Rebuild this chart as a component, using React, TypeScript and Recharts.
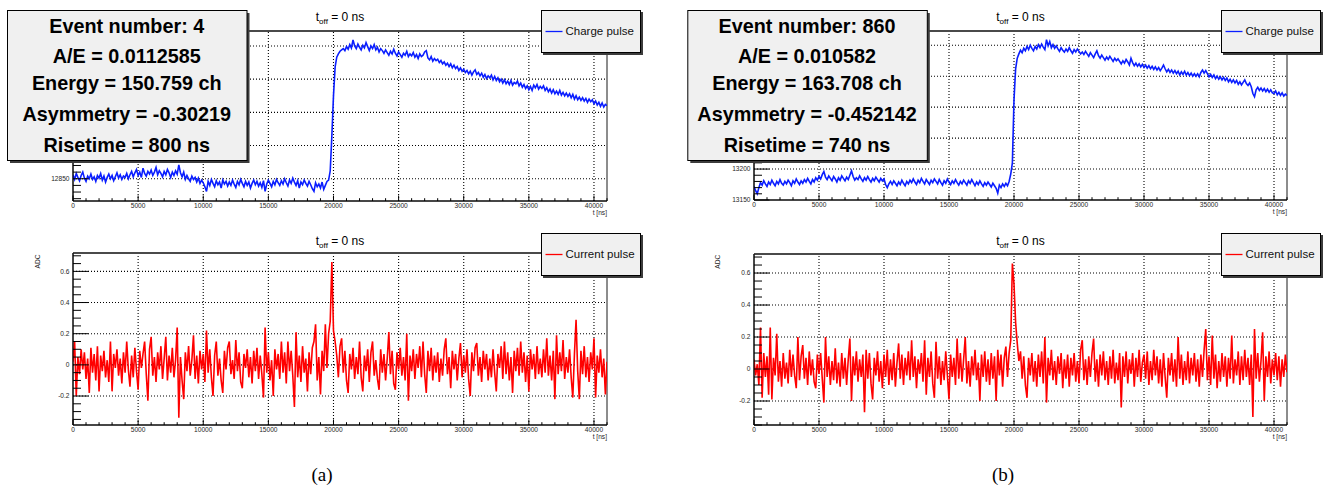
import React from 'react';
import { LineChart, Line, XAxis, YAxis, ReferenceLine, ReferenceArea, Legend } from 'recharts';

// ─── Constants ────────────────────────────────────────────────────────────────

const SANS = '"Liberation Sans", Arial, Helvetica, sans-serif';
const SERIF = '"Liberation Serif", "DejaVu Serif", serif';

const DT = 125;
const T_MAX = 41000;

const X_MAJOR = [5000, 10000, 15000, 20000, 25000, 30000, 35000, 40000];
const X_TICKS = Array.from({ length: 42 }, (_, i) => i * 1000);

const STATS_A = ['Event number: 4', 'A/E = 0.0112585', 'Energy = 150.759 ch', 'Asymmetry = -0.30219', 'Risetime = 800 ns'];
const STATS_B = ['Event number: 860', 'A/E = 0.010582', 'Energy = 163.708 ch', 'Asymmetry = -0.452142', 'Risetime = 740 ns'];

// ─── Data (ADC samples every 125 ns, 0 … 41000 ns) ───────────────────────────

const CHARGE_A = [
  12856, 12849, 12858, 12852, 12847, 12855, 12860, 12851, 12846, 12854, 12850, 12857, 12849, 12853, 12846, 12855,
  12851, 12858, 12848, 12854, 12845, 12852, 12857, 12850, 12855, 12847, 12853, 12859, 12851, 12856, 12849, 12854,
  12852, 12858, 12850, 12856, 12861, 12853, 12859, 12864, 12855, 12860, 12852, 12866, 12858, 12854, 12861, 12857,
  12863, 12855, 12860, 12867, 12856, 12862, 12858, 12853, 12861, 12856, 12864, 12859, 12852, 12860, 12855, 12862,
  12857, 12871, 12859, 12853, 12860, 12849, 12855, 12850, 12846, 12854, 12849, 12852, 12845, 12851, 12843, 12848,
  12844, 12838, 12831, 12846, 12840, 12849, 12843, 12838, 12847, 12841, 12845, 12836, 12848, 12842, 12846, 12839,
  12845, 12840, 12848, 12842, 12837, 12846, 12841, 12849, 12843, 12838, 12846, 12840, 12845, 12836, 12843, 12848,
  12841, 12846, 12839, 12844, 12837, 12847, 12831, 12842, 12848, 12843, 12838, 12846, 12841, 12849, 12844, 12840,
  12847, 12842, 12850, 12844, 12839, 12848, 12843, 12851, 12845, 12840, 12847, 12836, 12845, 12841, 12848, 12843,
  12839, 12846, 12841, 12835, 12831, 12844, 12838, 12842, 12836, 12845, 12834, 12840, 12846, 12848, 12862, 12915,
  12975, 13018, 13033, 13038, 13042, 13044, 13046, 13043, 13049, 13045, 13052, 13047, 13059, 13050, 13046, 13053,
  13048, 13044, 13051, 13047, 13055, 13049, 13043, 13050, 13046, 13052, 13044, 13048, 13041, 13046, 13043, 13039,
  13044, 13040, 13036, 13042, 13038, 13045, 13039, 13035, 13041, 13037, 13033, 13039, 13036, 13042, 13034, 13038,
  13035, 13040, 13033, 13037, 13031, 13038, 13034, 13036, 13041, 13043, 13032, 13029, 13034, 13027, 13031, 13028,
  13030, 13025, 13028, 13023, 13026, 13021, 13024, 13019, 13023, 13017, 13021, 13016, 13019, 13013, 13017, 13012,
  13015, 13010, 13013, 13008, 13012, 13006, 13011, 13014, 13007, 13010, 13005, 13009, 13003, 13007, 13001, 13005,
  13002, 13006, 12999, 13004, 12998, 13002, 12996, 13000, 12994, 12999, 12993, 12997, 12992, 12998, 12991, 12995,
  12993, 12997, 12990, 12994, 12988, 12992, 12986, 12990, 12984, 12989, 12983, 12991, 12987, 12992, 12985, 12989,
  12986, 12990, 12983, 12987, 12981, 12985, 12979, 12984, 12978, 12982, 12977, 12983, 12976, 12980, 12975, 12979,
  12974, 12978, 12972, 12977, 12970, 12975, 12969, 12973, 12968, 12972, 12967, 12971, 12965, 12970, 12966, 12969,
  12963, 12967, 12961, 12965, 12959, 12964, 12958, 12962, 12960,
];

const CURRENT_A = [
  0.02, 0.15, -0.2, 0.05, -0.06, 0.1, -0.03, 0.08, -0.09, 0.04, -0.18, 0.11, -0.05, 0.07, -0.1, 0.12,
  -0.17, 0.06, -0.04, 0.09, -0.08, 0.03, -0.11, 0.15, -0.17, 0.07, -0.02, 0.1, -0.07, 0.04, -0.12, 0.08,
  -0.05, 0.15, -0.03, -0.14, 0.06, -0.08, 0.11, -0.04, -0.16, 0.09, -0.02, 0.07, 0.15, -0.06, -0.23, 0.1,
  0.18, -0.07, 0.05, -0.11, 0.08, -0.03, 0.12, -0.09, 0.04, 0.18, -0.1, 0.06, -0.05, 0.11, -0.08, 0.03,
  0.24, -0.34, 0.05, -0.1, -0.22, 0.08, -0.04, 0.12, -0.07, 0.03, 0.19, -0.09, 0.06, -0.12, 0.09, -0.03,
  0.07, -0.11, 0.22, -0.05, 0.1, -0.08, -0.2, 0.06, 0.15, -0.07, 0.04, -0.1, -0.18, 0.09, -0.03, 0.11,
  0.15, -0.06, 0.03, -0.09, 0.16, -0.04, 0.08, -0.11, -0.15, 0.07, -0.02, 0.1, -0.08, 0.05, -0.12, 0.09,
  -0.04, 0.11, -0.09, 0.06, -0.06, -0.21, 0.24, -0.05, 0.08, -0.1, 0.03, -0.2, 0.1, -0.03, 0.07, -0.09,
  0.15, -0.05, 0.08, -0.12, 0.15, -0.04, 0.09, -0.07, -0.27, 0.21, -0.08, 0.06, -0.11, 0.12, -0.05, 0.04,
  -0.17, 0.08, -0.06, 0.11, 0.15, 0.26, -0.1, 0.05, -0.19, 0.09, -0.04, 0.26, -0.02, 0.2, 0.28, 0.66,
  0.22, 0.15, 0.06, -0.08, 0.12, 0.17, -0.05, 0.09, -0.1, -0.18, 0.07, -0.03, 0.11, -0.09, 0.05, -0.06,
  0.15, -0.08, -0.17, 0.06, -0.04, 0.1, -0.11, 0.08, 0.15, -0.07, 0.03, -0.09, -0.16, 0.1, -0.05, 0.07,
  -0.1, 0.04, 0.21, -0.06, 0.09, -0.12, -0.16, 0.08, -0.03, 0.11, -0.07, 0.05, -0.1, 0.2, -0.23, 0.06,
  -0.04, 0.1, -0.09, 0.07, -0.02, 0.12, -0.08, 0.15, -0.06, -0.18, 0.09, -0.04, 0.11, -0.1, 0.06, -0.05,
  0.08, -0.11, 0.04, -0.07, 0.1, 0.17, -0.06, 0.05, -0.15, 0.09, -0.03, 0.07, -0.1, 0.04, 0.14, -0.08,
  0.06, -0.05, 0.1, -0.09, -0.2, 0.08, -0.04, 0.11, 0.14, -0.07, 0.05, -0.11, 0.09, -0.03, 0.07, -0.1,
  0.04, -0.08, 0.1, -0.05, -0.17, 0.07, -0.02, 0.12, -0.09, 0.15, -0.06, 0.08, -0.1, 0.05, -0.18, 0.09,
  -0.04, 0.11, -0.07, 0.15, -0.05, 0.08, -0.11, 0.06, -0.17, 0.1, -0.03, 0.07, -0.09, 0.12, -0.06, 0.04,
  -0.08, 0.1, -0.05, 0.17, -0.07, 0.06, -0.1, 0.09, -0.22, 0.19, -0.06, 0.08, -0.04, 0.16, -0.09, 0.05,
  -0.05, 0.1, -0.08, -0.21, 0.07, 0.29, -0.04, -0.22, 0.09, -0.06, 0.12, -0.08, 0.05, -0.11, 0.08, -0.03,
  0.17, -0.21, 0.06, -0.05, 0.1, -0.08, 0.04, -0.19, 0.02,
];

const CHARGE_B = [
  13172, 13165, 13160, 13170, 13178, 13174, 13181, 13176, 13172, 13179, 13175, 13182, 13177, 13173, 13180, 13176,
  13183, 13177, 13174, 13180, 13176, 13182, 13178, 13173, 13181, 13177, 13184, 13179, 13175, 13181, 13177, 13183,
  13179, 13185, 13180, 13176, 13183, 13179, 13186, 13182, 13188, 13184, 13191, 13196, 13187, 13183, 13189, 13185,
  13181, 13188, 13184, 13179, 13186, 13182, 13189, 13185, 13181, 13187, 13183, 13190, 13197, 13188, 13182, 13186,
  13183, 13189, 13184, 13180, 13186, 13182, 13188, 13183, 13179, 13185, 13181, 13187, 13183, 13179, 13185, 13181,
  13184, 13175, 13170, 13176, 13180, 13175, 13181, 13177, 13173, 13179, 13175, 13182, 13177, 13173, 13180, 13176,
  13182, 13178, 13184, 13179, 13175, 13182, 13178, 13185, 13180, 13176, 13183, 13179, 13175, 13182, 13178, 13184,
  13180, 13176, 13183, 13178, 13174, 13181, 13177, 13184, 13179, 13175, 13181, 13177, 13183, 13178, 13174, 13180,
  13176, 13182, 13178, 13174, 13181, 13177, 13183, 13178, 13173, 13179, 13175, 13181, 13176, 13172, 13178, 13174,
  13179, 13175, 13171, 13177, 13173, 13169, 13161, 13174, 13170, 13176, 13172, 13177, 13173, 13180, 13192, 13210,
  13312, 13362, 13379, 13386, 13392, 13388, 13395, 13391, 13398, 13393, 13400, 13395, 13391, 13398, 13394, 13401,
  13396, 13402, 13397, 13393, 13409, 13399, 13406, 13396, 13401, 13395, 13399, 13394, 13390, 13396, 13392, 13389,
  13394, 13390, 13396, 13391, 13387, 13393, 13389, 13394, 13390, 13386, 13389, 13385, 13390, 13386, 13382, 13388,
  13384, 13380, 13386, 13391, 13383, 13379, 13384, 13380, 13376, 13381, 13377, 13382, 13378, 13374, 13379, 13375,
  13378, 13374, 13370, 13375, 13371, 13377, 13373, 13368, 13379, 13372, 13367, 13371, 13366, 13370, 13365, 13369,
  13364, 13368, 13363, 13367, 13362, 13366, 13361, 13365, 13360, 13364, 13359, 13363, 13368, 13362, 13357, 13361,
  13356, 13360, 13355, 13359, 13354, 13358, 13352, 13357, 13353, 13358, 13352, 13356, 13351, 13355, 13350, 13354,
  13350, 13354, 13349, 13356, 13360, 13355, 13359, 13354, 13349, 13353, 13348, 13352, 13346, 13350, 13345, 13349,
  13344, 13348, 13343, 13347, 13341, 13345, 13340, 13344, 13339, 13343, 13337, 13341, 13336, 13340, 13344, 13338,
  13335, 13339, 13333, 13322, 13317, 13328, 13332, 13327, 13331, 13326, 13330, 13325, 13329, 13324, 13328, 13323,
  13322, 13326, 13320, 13324, 13319, 13323, 13318, 13321, 13319,
];

const CURRENT_B = [
  0.06, -0.04, 0.03, -0.1, 0.26, -0.18, 0.1, -0.05, 0.08, -0.16, 0.26, -0.19, 0.07, -0.04, 0.22, -0.08,
  0.05, -0.11, 0.1, -0.06, 0.04, -0.09, 0.12, -0.05, 0.09, -0.04, -0.12, 0.2, -0.07, 0.08, 0.15, -0.06,
  0.07, -0.1, 0.11, -0.04, 0.06, -0.08, -0.12, 0.09, -0.03, 0.1, -0.06, -0.21, 0.2, -0.05, 0.08, -0.1,
  0.05, -0.07, 0.13, -0.09, 0.04, -0.11, 0.1, -0.06, 0.07, -0.1, 0.06, 0.19, -0.2, 0.08, -0.04, 0.11,
  -0.08, 0.06, -0.05, 0.09, -0.27, 0.12, -0.06, 0.1, -0.09, -0.19, 0.07, -0.04, 0.11, -0.08, 0.05, -0.12,
  0.09, -0.05, 0.12, -0.1, 0.06, -0.07, 0.1, -0.11, 0.04, 0.16, -0.06, 0.09, -0.1, 0.07, -0.04, 0.11,
  -0.07, 0.18, -0.05, 0.08, -0.12, 0.06, -0.03, 0.1, -0.08, 0.18, -0.16, 0.07, -0.05, 0.11, -0.09, -0.18,
  0.17, -0.06, 0.08, -0.1, 0.05, -0.07, 0.11, -0.04, -0.19, 0.09, -0.05, 0.07, -0.1, 0.19, -0.06, 0.1,
  -0.08, 0.06, 0.2, -0.09, 0.05, -0.11, 0.08, -0.04, 0.12, -0.07, 0.04, -0.2, 0.09, -0.05, 0.11, -0.08,
  0.06, -0.1, 0.1, -0.06, 0.08, -0.2, 0.12, -0.04, 0.09, -0.11, 0.07, 0.14, -0.05, 0.1, 0.18, 0.66,
  0.53, 0.29, 0.16, 0.05, 0.11, -0.06, 0.08, -0.1, -0.18, 0.07, -0.04, 0.1, -0.08, 0.05, -0.11, 0.09,
  -0.05, 0.11, -0.09, 0.2, -0.21, 0.07, -0.04, 0.12, -0.07, 0.05, -0.1, 0.08, -0.03, 0.1, -0.12, 0.06,
  -0.06, 0.09, -0.11, 0.07, -0.04, 0.1, -0.08, 0.05, -0.09, 0.12, 0.18, -0.07, 0.06, -0.1, 0.08, -0.05,
  0.1, 0.19, -0.08, 0.06, -0.11, 0.09, -0.04, 0.11, -0.07, 0.05, -0.1, 0.08, -0.06, 0.12, -0.09, 0.04,
  -0.07, 0.1, -0.24, 0.08, -0.05, 0.11, -0.09, 0.06, -0.03, 0.1, -0.11, 0.07, -0.05, 0.12, -0.08, 0.04,
  0.09, -0.06, 0.11, -0.1, 0.05, -0.07, 0.12, -0.04, 0.08, -0.09, 0.06, -0.11, 0.1, -0.05, -0.18, 0.07,
  -0.04, 0.1, -0.08, 0.06, -0.11, 0.2, -0.06, 0.09, -0.1, 0.05, -0.07, 0.11, -0.09, 0.07, -0.04, 0.1,
  -0.08, 0.06, -0.11, 0.09, -0.05, 0.12, 0.25, -0.07, 0.08, -0.1, 0.21, -0.06, 0.09, -0.12, 0.05, -0.08,
  0.1, -0.05, 0.08, -0.11, 0.07, -0.06, 0.21, -0.09, 0.06, -0.04, 0.11, -0.1, 0.08, -0.07, 0.12, -0.05,
  0.07, -0.1, 0.09, -0.3, 0.25, -0.06, 0.1, -0.08, 0.05, 0.23, -0.2, 0.08, -0.05, 0.11, -0.09, 0.06,
  -0.04, 0.1, -0.07, 0.08, -0.11, 0.06, -0.05, 0.09, -0.02,
];

// ─── Axis ticks ───────────────────────────────────────────────────────────────

const range = (from: number, to: number, step: number) =>
  Array.from({ length: Math.round((to - from) / step) + 1 }, (_, k) => Math.round((from + k * step) * 100) / 100);

const Y_TICKS_QA = range(12820, 13070, 10);
const Y_GRID_QA = [12850, 12900, 12950, 13000, 13050];
const Y_LABELS_QA = [12850]; // the rest sit under the stats box
const Y_TICKS_QB = range(13150, 13420, 10);
const Y_GRID_QB = [13200, 13250, 13300, 13350, 13400];
const Y_LABELS_QB = [13150, 13200];
const Y_TICKS_I = range(-0.35, 0.7, 0.05);
const Y_GRID_I = [-0.2, 0, 0.2, 0.4, 0.6];
const Y_LABELS_I = [-0.2, 0, 0.2, 0.4, 0.6];

function XTick(props: any) {
  const { x, y, payload } = props;
  const v = payload.value as number;
  const major = v % 5000 === 0;
  return (
    <g>
      <line x1={x} x2={x} y1={y} y2={y - (major ? 5.5 : 2.8)} stroke="#000" strokeWidth={1} />
      {major && (
        <text x={x} y={y + 6.8} textAnchor="middle" fontSize={6.6} fontFamily={SANS} fill="#262626">
          {v}
        </text>
      )}
    </g>
  );
}

function YTick(props: any) {
  const { x, y, payload, step, labels } = props;
  const v = payload.value as number;
  const q = v / step;
  const major = Math.abs(q - Math.round(q)) < 1e-6;
  const showLabel = major && (labels as number[]).some((l) => Math.abs(l - v) < 1e-6);
  return (
    <g>
      <line x1={x} x2={x + (major ? 15.5 : 8)} y1={y} y2={y} stroke="#000" strokeWidth={1} />
      {showLabel && (
        <text x={x - 3.5} y={y + 2.3} textAnchor="end" fontSize={6.6} fontFamily={SANS} fill="#262626">
          {String(Math.round(v * 100) / 100)}
        </text>
      )}
    </g>
  );
}

// ─── Legend ───────────────────────────────────────────────────────────────────

function LegendBox({ payload }: any) {
  const item = payload?.[0];
  if (!item) return null;
  return (
    <div style={{
      width: 100, height: 43, boxSizing: 'border-box', background: '#f0f0f0',
      border: '1px solid #000', boxShadow: '2px 2px 0 #3c3c3c',
    }}>
      <svg width={98} height={41} style={{ display: 'block' }}>
        <line x1={3.5} x2={20.5} y1={20.5} y2={20.5} stroke={item.color} strokeWidth={1.3} />
        <text x={23.5} y={24.3} fontSize={11.5} fontFamily={SANS} fill="#111">{item.value}</text>
      </svg>
    </div>
  );
}

// ─── Panel ────────────────────────────────────────────────────────────────────

interface PanelProps {
  left: number;
  top: number;
  width: number;
  margin: { top: number; right: number; bottom: number; left: number };
  values: number[];
  name: string;
  color: string;
  domain: [number, number];
  ticks: number[];
  grid: number[];
  labels: number[];
  step: number;
  legendLeft: number;
  legendTop: number;
}

function Panel({ left, top, width, margin, values, name, color, domain, ticks, grid, labels, step, legendLeft, legendTop }: PanelProps) {
  const data = values.map((v, i) => ({ t: i * DT, v }));
  return (
    <div style={{ position: 'absolute', left, top }}>
      <LineChart width={width} height={225} data={data} margin={margin}>
        <XAxis
          dataKey="t"
          type="number"
          domain={[0, T_MAX]}
          ticks={X_TICKS}
          interval={0}
          tick={<XTick />}
          tickLine={false}
          tickSize={0}
          tickMargin={0}
          height={20}
          axisLine={{ stroke: '#000' }}
          allowDataOverflow
        />
        <YAxis
          type="number"
          domain={domain}
          ticks={ticks}
          interval={0}
          tick={<YTick step={step} labels={labels} />}
          tickLine={false}
          tickSize={0}
          tickMargin={0}
          width={60}
          axisLine={{ stroke: '#000' }}
          allowDataOverflow
        />
        {X_MAJOR.map((v) => (
          <ReferenceLine key={'gx' + v} x={v} stroke="#000" strokeDasharray="1 2" strokeWidth={1.1} />
        ))}
        {grid.map((v) => (
          <ReferenceLine key={'gy' + v} y={v} stroke="#000" strokeDasharray="1 2" strokeWidth={1.1} />
        ))}
        <ReferenceArea x1={0} x2={T_MAX} y1={domain[0]} y2={domain[1]} fill="none" stroke="#1a1a1a" strokeWidth={1} />
        <ReferenceLine y={domain[1]} stroke="#4a4a4a" strokeWidth={2} />
        <Line
          type="linear"
          dataKey="v"
          name={name}
          stroke={color}
          strokeWidth={1.6}
          dot={false}
          activeDot={false}
          isAnimationActive={false}
        />
        <Legend
          layout="vertical"
          align="center"
          verticalAlign="middle"
          content={<LegendBox />}
          wrapperStyle={{ position: 'absolute', left: legendLeft, top: legendTop, width: 100, height: 43, margin: 0 }}
        />
      </LineChart>
    </div>
  );
}

// ─── Overlay texts ────────────────────────────────────────────────────────────

const STAT_BASELINES = [32.7, 62.7, 89.8, 120.7, 152.3];

function StatsBox({ x, lines }: { x: number; lines: string[] }) {
  const w = 239.5;
  const h = 150;
  return (
    <g>
      <rect x={x + 3} y={13} width={w} height={h} fill="#3c3c3c" />
      <rect x={x + 0.5} y={10.5} width={w} height={h} fill="#f0f0f0" stroke="#000" strokeWidth={1} />
      {lines.map((s, i) => (
        <text key={i} x={x + w / 2} y={STAT_BASELINES[i]} textAnchor="middle" fontSize={19.8} fontWeight="bold" fontFamily={SANS} fill="#000">
          {s}
        </text>
      ))}
    </g>
  );
}

function Title({ cx, y }: { cx: number; y: number }) {
  return (
    <text x={cx} y={y} textAnchor="middle" fontSize={12} fontFamily={SANS} fill="#000">
      t<tspan fontSize={8} dy={3.5}>off</tspan><tspan dy={-3.5}>{' = 0 ns'}</tspan>
    </text>
  );
}

// ─── App ──────────────────────────────────────────────────────────────────────

export default function App() {
  return (
    <div style={{ position: 'absolute', left: 0, top: 0, width: 1325, height: 490, background: '#fff', overflow: 'hidden' }}>
      <Panel
        left={0} top={0} width={660}
        margin={{ top: 31, right: 53, bottom: 4, left: 13 }}
        values={CHARGE_A} name="Charge pulse" color="#0a1eff"
        domain={[12816.5, 13072.5]} ticks={Y_TICKS_QA} grid={Y_GRID_QA} labels={Y_LABELS_QA} step={50}
        legendLeft={540.5} legendTop={10}
      />
      <Panel
        left={0} top={225} width={660}
        margin={{ top: 28, right: 53, bottom: 5, left: 13 }}
        values={CURRENT_A} name="Current pulse" color="#ff0000"
        domain={[-0.386, 0.718]} ticks={Y_TICKS_I} grid={Y_GRID_I} labels={Y_LABELS_I} step={0.2}
        legendLeft={540.5} legendTop={7.5}
      />
      <Panel
        left={680} top={0} width={645}
        margin={{ top: 31, right: 38, bottom: 5, left: 14 }}
        values={CHARGE_B} name="Charge pulse" color="#0a1eff"
        domain={[13150, 13423]} ticks={Y_TICKS_QB} grid={Y_GRID_QB} labels={Y_LABELS_QB} step={50}
        legendLeft={541.3} legendTop={10}
      />
      <Panel
        left={680} top={225} width={645}
        margin={{ top: 29, right: 38, bottom: 5, left: 14 }}
        values={CURRENT_B} name="Current pulse" color="#ff0000"
        domain={[-0.35, 0.719]} ticks={Y_TICKS_I} grid={Y_GRID_I} labels={Y_LABELS_I} step={0.2}
        legendLeft={541.3} legendTop={7.5}
      />
      <svg width={1325} height={490} style={{ position: 'absolute', left: 0, top: 0, pointerEvents: 'none' }}>
        <Title cx={340} y={20.5} />
        <Title cx={340} y={244.5} />
        <Title cx={1020.5} y={20.5} />
        <Title cx={1020.5} y={244.5} />

        <text x={607} y={214.5} textAnchor="end" fontSize={6.6} fontFamily={SANS} fill="#262626">t [ns]</text>
        <text x={607} y={438.5} textAnchor="end" fontSize={6.6} fontFamily={SANS} fill="#262626">t [ns]</text>
        <text x={1287} y={213.5} textAnchor="end" fontSize={6.6} fontFamily={SANS} fill="#262626">t [ns]</text>
        <text x={1287} y={438.5} textAnchor="end" fontSize={6.6} fontFamily={SANS} fill="#262626">t [ns]</text>

        <text transform="translate(40,261.5) rotate(-90)" textAnchor="middle" fontSize={6.6} fontFamily={SANS} fill="#262626">ADC</text>
        <text transform="translate(720,261.7) rotate(-90)" textAnchor="middle" fontSize={6.6} fontFamily={SANS} fill="#262626">ADC</text>

        <StatsBox x={7} lines={STATS_A} />
        <StatsBox x={687.3} lines={STATS_B} />

        <text x={322} y={481} textAnchor="middle" fontSize={19} fontFamily={SERIF} fill="#000">(a)</text>
        <text x={1003} y={481} textAnchor="middle" fontSize={19} fontFamily={SERIF} fill="#000">(b)</text>
      </svg>
    </div>
  );
}
